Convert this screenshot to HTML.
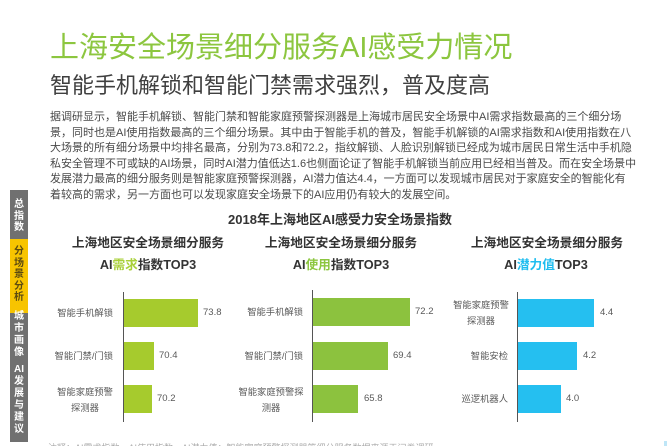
<!DOCTYPE html>
<html><head><meta charset="utf-8">
<style>
*{margin:0;padding:0;box-sizing:border-box}
html,body{width:671px;height:446px;overflow:hidden;background:#fff}
#w{position:relative;width:671px;height:446px;overflow:hidden;background:#fff;font-family:"Liberation Sans","Noto Sans CJK SC",sans-serif}
.a{position:absolute;white-space:nowrap}
.t{left:50px;top:34px;font-size:29px;line-height:29px;color:#8cc63f}
.st{left:50px;top:75px;font-size:22px;line-height:22px;color:#3f3f3f}
.bl{left:50px;font-size:11px;line-height:15px;height:15px;color:#4a4a4a;text-align:justify;text-align-last:justify}
.ct{font-size:13px;font-weight:bold;color:#333;line-height:16px;text-align:center}
.pt{font-size:12.7px;font-weight:bold;color:#333;line-height:16px;text-align:center;width:200px}
.ax{position:absolute;width:1px;background:#555}
.bar{position:absolute;height:28px}
.v{font-size:9.5px;color:#595959;line-height:12px}
.lb{font-size:9.3px;color:#595959;line-height:12px}
.sb{position:absolute;left:10px;width:18px}
.sc{position:absolute;left:10px;width:18px;text-align:center;font-size:10px;font-weight:bold}
.sc div{height:11.5px;line-height:11.5px}
.sc.g div{height:12px;line-height:12px}
</style></head><body><div id="w">

<div class="a t">上海安全场景细分服务AI感受力情况</div>
<div class="a st">智能手机解锁和智能门禁需求强烈，普及度高</div>

<div class="a bl" style="top:110px;width:570px">据调研显示，智能手机解锁、智能门禁和智能家庭预警探测器是上海城市居民安全场景中AI需求指数最高的三个细分场</div>
<div class="a bl" style="top:125.5px;width:577px">景，同时也是AI使用指数最高的三个细分场景。其中由于智能手机的普及，智能手机解锁的AI需求指数和AI使用指数在八</div>
<div class="a bl" style="top:141px;width:577px">大场景的所有细分场景中均排名最高，分别为73.8和72.2，指纹解锁、人脸识别解锁已经成为城市居民日常生活中手机隐</div>
<div class="a bl" style="top:156.5px;width:583px">私安全管理不可或缺的AI场景，同时AI潜力值低达1.6也侧面论证了智能手机解锁当前应用已经相当普及。而在安全场景中</div>
<div class="a bl" style="top:172px;width:575px">发展潜力最高的细分服务则是智能家庭预警探测器，AI潜力值达4.4，一方面可以发现城市居民对于家庭安全的智能化有</div>
<div class="a" style="left:50px;top:187.5px;font-size:11px;line-height:15px;color:#4a4a4a">着较高的需求，另一方面也可以发现家庭安全场景下的AI应用仍有较大的发展空间。</div>

<div class="a ct" style="left:190px;width:300px;top:212px">2018年上海地区AI感受力安全场景指数</div>

<!-- Panel 1 -->
<div class="a pt" style="left:48px;top:235px">上海地区安全场景细分服务</div>
<div class="a pt" style="left:48px;top:257px">AI<span style="color:#a9d03a">需求</span>指数TOP3</div>
<div class="ax" style="left:123px;top:292px;height:130px"></div>
<div class="bar" style="left:124px;top:299px;width:74px;background:#a6cb2d"></div>
<div class="bar" style="left:124px;top:342px;width:30px;background:#a6cb2d"></div>
<div class="bar" style="left:124px;top:385px;width:28px;background:#a6cb2d"></div>
<div class="a v" style="left:203px;top:307px">73.8</div>
<div class="a v" style="left:159px;top:350px">70.4</div>
<div class="a v" style="left:157px;top:393px">70.2</div>
<div class="a lb" style="left:13px;width:100px;text-align:right;top:307px">智能手机解锁</div>
<div class="a lb" style="left:13px;width:100px;text-align:right;top:350px">智能门禁/门锁</div>
<div class="a lb" style="left:35px;width:100px;text-align:center;top:386px">智能家庭预警</div>
<div class="a lb" style="left:35px;width:100px;text-align:center;top:402px">探测器</div>

<!-- Panel 2 -->
<div class="a pt" style="left:241px;top:235px">上海地区安全场景细分服务</div>
<div class="a pt" style="left:241px;top:257px">AI<span style="color:#8cc63f">使用</span>指数TOP3</div>
<div class="ax" style="left:312px;top:290px;height:132px"></div>
<div class="bar" style="left:313px;top:298px;width:97px;background:#8cc23e"></div>
<div class="bar" style="left:313px;top:342px;width:75px;background:#8cc23e"></div>
<div class="bar" style="left:313px;top:385px;width:45px;background:#8cc23e"></div>
<div class="a v" style="left:415px;top:306px">72.2</div>
<div class="a v" style="left:393px;top:350px">69.4</div>
<div class="a v" style="left:364px;top:393px">65.8</div>
<div class="a lb" style="left:203px;width:100px;text-align:right;top:306px">智能手机解锁</div>
<div class="a lb" style="left:203px;width:100px;text-align:right;top:350px">智能门禁/门锁</div>
<div class="a lb" style="left:221px;width:100px;text-align:center;top:386px">智能家庭预警探</div>
<div class="a lb" style="left:221px;width:100px;text-align:center;top:402px">测器</div>

<!-- Panel 3 -->
<div class="a pt" style="left:447px;top:235px">上海地区安全场景细分服务</div>
<div class="a pt" style="left:446px;top:257px">AI<span style="color:#1fbdef">潜力值</span>TOP3</div>
<div class="ax" style="left:517px;top:292px;height:130px"></div>
<div class="bar" style="left:518px;top:299px;width:76px;background:#25bff0"></div>
<div class="bar" style="left:518px;top:342px;width:59px;background:#25bff0"></div>
<div class="bar" style="left:518px;top:385px;width:43px;background:#25bff0"></div>
<div class="a v" style="left:600px;top:307px">4.4</div>
<div class="a v" style="left:583px;top:350px">4.2</div>
<div class="a v" style="left:566px;top:393px">4.0</div>
<div class="a lb" style="left:431px;width:100px;text-align:center;top:299px">智能家庭预警</div>
<div class="a lb" style="left:431px;width:100px;text-align:center;top:315px">探测器</div>
<div class="a lb" style="left:408px;width:100px;text-align:right;top:350px">智能安检</div>
<div class="a lb" style="left:408px;width:100px;text-align:right;top:393px">巡逻机器人</div>

<!-- footnote (cut off) -->
<div class="a" style="left:48px;top:442px;font-size:9px;line-height:12px;color:#aaa">注释：AI需求指数、AI使用指数、AI潜力值；智能家庭预警探测器等细分服务数据来源于问卷调研。</div>
<div class="a" style="left:664px;top:441px;width:3px;height:5px;background:#bfe6f7"></div>

<!-- sidebar -->
<div class="sb" style="top:190px;height:49px;background:#707070"></div>
<div class="sb" style="top:239px;height:74px;background:#f7c400"></div>
<div class="sb" style="top:313px;height:129px;background:#707070"></div>
<div class="sc" style="top:199px;color:#fff"><div>总</div><div>指</div><div>数</div></div>
<div class="sc" style="top:246px;color:#5b4a10"><div>分</div><div>场</div><div>景</div><div>分</div><div>析</div></div>
<div class="sc g" style="top:311px;color:#fff"><div>城</div><div>市</div><div>画</div><div>像</div></div>
<div class="sc g" style="top:364px;color:#fff"><div>AI</div><div>发</div><div>展</div><div>与</div><div>建</div><div>议</div></div>

</div></body></html>
